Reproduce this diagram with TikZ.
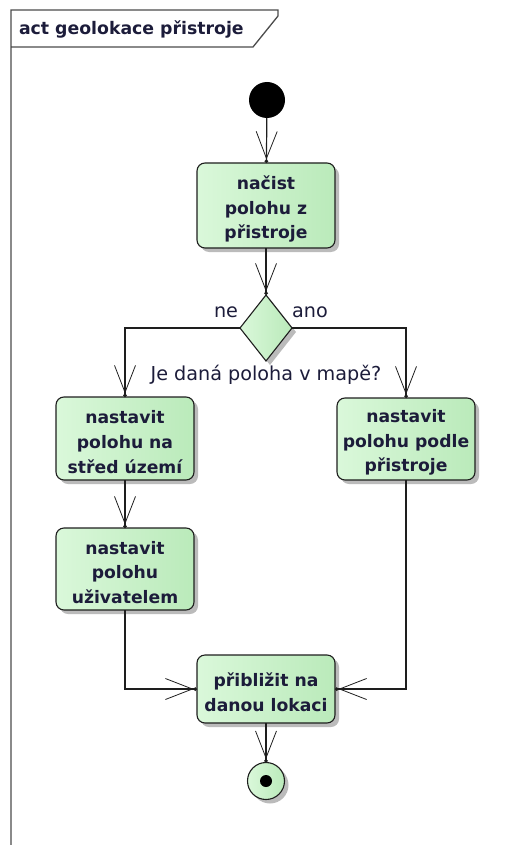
\documentclass[tikz,border=0pt]{standalone}
\usepackage{fontspec}
\setmainfont{DejaVu Sans}
\usetikzlibrary{arrows.meta,shapes.geometric,shadows}
\definecolor{ink}{RGB}{28,28,58}
\definecolor{edge}{RGB}{30,30,30}
\definecolor{mintL}{RGB}{218,248,218}
\definecolor{mintR}{RGB}{186,234,186}
\definecolor{shade}{RGB}{170,170,170}
% action text, set a little low inside its box
\newcommand{\acttext}[1]{\raisebox{-3.5pt}[\height][\depth]{\parbox{130pt}{\centering #1}}}
\begin{document}
\begin{tikzpicture}[x=1pt,y=-1pt,
  every node/.style={inner sep=0pt, outer sep=0pt},
  shadowed/.style={drop shadow={shadow xshift=4pt, shadow yshift=-4pt, fill=shade, opacity=0.8}},
  action/.style={shadowed, draw=edge, line width=1.1pt, rounded corners=8pt,
    left color=mintL, right color=mintR, minimum width=138pt, text=ink,
    align=center, font=\bfseries\fontsize{17.2}{24.8}\selectfont},
  decision/.style={shadowed, diamond, draw=edge, line width=1.1pt,
    left color=mintL, right color=mintR, minimum width=52pt, minimum height=66pt, aspect=0.79},
  guard/.style={text=ink, font=\fontsize{19.2}{22}\selectfont},
  flow/.style={draw=edge, line width=1.2pt,
    -{Straight Barb[length=27pt,width=21pt,line width=0.8pt] Circle[length=3.5pt]}},
  framing/.style={draw=edge!80, line width=1.3pt}
]
\useasboundingbox (0,0) rectangle (518,845);

% diagram frame with its name tab
\draw[framing] (11,845) -- (11,10) -- (278,10) -- (278,16) -- (253,47) -- (11,47);
\node[anchor=west, text=ink, font=\bfseries\fontsize{17.3}{20}\selectfont] (title) at (19,29) {act geolokace přistroje};

% start and end
\node[circle, fill=black, minimum size=36pt] (start) at (267,100) {};
\node[circle, shadowed, draw=edge, line width=1.1pt, left color=mintL, right color=mintR, minimum size=37pt] (final) at (266,781) {};
\node[circle, fill=black, minimum size=12pt] (finaldot) at (final.center) {};

% actions
\node[action, minimum height=85pt] (read) at (266,205.5) {\acttext{načist\\polohu z\\přistroje}};
\node[decision] (dec) at (266,328) {};
\node[action, minimum height=83pt] (center) at (125,438.5) {\acttext{nastavit\\polohu na\\střed území}};
\node[action, minimum height=82pt] (device) at (406,439) {\acttext{nastavit\\polohu podle\\přistroje}};
\node[action, minimum height=82pt] (user) at (125,569) {\acttext{nastavit\\polohu\\uživatelem}};
\node[action, minimum height=68pt] (zoom) at (266,689) {\acttext{přibližit na\\danou lokaci}};

% guards
\node[guard] (gne) at (226,312) {ne};
\node[guard] (gano) at (310,312) {ano};
\node[guard] (gq) at (266,375) {Je daná poloha v mapě?};

% control flow
\draw[flow] (start) -- (read);
\draw[flow] (read) -- (dec);
\draw[flow] (dec.west) -| (center.north);
\draw[flow] (dec.east) -| (device.north);
\draw[flow] (center) -- (user);
\draw[flow] (user.south) |- (zoom.west);
\draw[flow] (device.south) |- (zoom.east);
\draw[flow] (zoom) -- (final);
\end{tikzpicture}
\end{document}
